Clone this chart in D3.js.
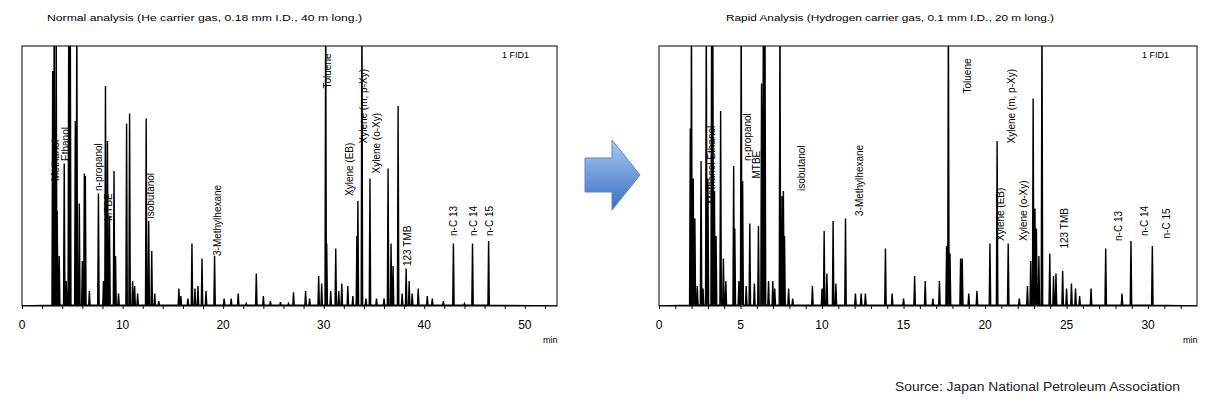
<!DOCTYPE html><html><head><meta charset="utf-8">
<script src="https://cdn.jsdelivr.net/npm/d3@7"></script>
<style>body{margin:0;background:#fff}text{font-family:"Liberation Sans",Arial,sans-serif}</style></head><body>
<svg id="c" width="1232" height="407"></svg>
<script>
const leftPeaks=[[3.05,.94],[3.2,1.2],[3.4,1.2],[3.5,.38],[3.7,.2],[4.2,.57],[4.4,.1],[4.65,1.2],[4.8,1.2],[5.3,.74],[5.45,1.2],[5.7,.41],[6.0,.18],[6.2,.53],[6.3,.52],[6.7,.06],[7.6,.45],[8.1,.1],[8.3,.88],[8.5,.66],[8.7,.36],[9.15,.54],[9.3,.2],[9.6,.05],[10.4,.73],[10.7,.77],[11.0,.1],[11.2,.08],[11.5,.05],[12.35,.75],[12.6,.34],[12.9,.22],[13.2,.05],[13.6,.02],[15.6,.07],[15.8,.04],[16.5,.03],[16.9,.25],[17.2,.07],[17.5,.08],[17.9,.19],[18.3,.06],[19.15,.2],[20.1,.03],[20.8,.03],[21.5,.05],[22.3,.01],[23.3,.13],[24.0,.04],[24.7,.02],[25.7,.015],[26.5,.01],[27.0,.055],[28.2,.06],[28.6,.03],[29.5,.12],[29.8,.09],[30.2,1.2],[30.3,.25],[30.7,.06],[31.2,.23],[31.5,.06],[31.8,.09],[32.4,.08],[32.9,.04],[33.3,.28],[33.4,.42],[33.8,1.2],[34.2,.03],[34.6,.51],[35.25,.03],[36.0,.03],[36.4,.55],[36.7,.25],[36.9,.16],[37.4,.8],[37.8,.05],[38.2,.15],[38.5,.1],[38.8,.05],[39.4,.07],[40.3,.04],[40.8,.03],[41.9,.02],[42.9,.25],[44.0,.01],[44.8,.25],[46.4,.26]];
const rightPeaks=[[1.92,.71],[1.99,1.2],[2.1,.51],[2.2,.35],[2.35,.08],[2.58,.58],[2.7,.07],[2.9,1.2],[3.0,.51],[3.23,1.2],[3.3,1.2],[3.4,.46],[3.5,.28],[3.78,.78],[3.95,.19],[4.1,.1],[4.58,.56],[4.65,.31],[4.9,.1],[5.04,1.2],[5.13,.5],[5.35,.08],[5.57,.33],[5.85,.09],[6.1,.32],[6.29,.89],[6.4,1.2],[6.5,1.2],[6.72,.1],[6.98,.1],[7.1,.07],[7.42,1.2],[7.55,.44],[7.63,.46],[7.7,.28],[7.95,.07],[8.2,.03],[9.41,.08],[10.0,.07],[10.13,.3],[10.3,.13],[10.68,.34],[10.85,.09],[11.44,.35],[12.05,.05],[12.4,.05],[12.66,.05],[13.89,.23],[14.3,.05],[15.0,.03],[15.68,.12],[16.33,.1],[16.8,.03],[17.2,.1],[17.64,.24],[17.75,1.2],[17.85,.21],[18.5,.19],[18.6,.19],[19.0,.05],[19.5,.06],[20.3,.25],[20.74,.66],[21.42,.25],[22.1,.03],[22.6,.08],[22.8,.18],[22.95,.83],[23.06,.39],[23.15,.31],[23.3,.2],[23.49,1.2],[23.97,.21],[24.2,.12],[24.35,.13],[24.76,.14],[25.0,.07],[25.3,.09],[25.55,.07],[25.8,.04],[26.5,.07],[27.4,.23],[28.4,.05],[28.95,.26],[30.26,.24]];
const leftLabels=[["Methanol",3.3,.5],["Ethanol",4.3,.58],["n-propanol",7.6,.46],["MTBE",8.6,.34],["isobutanol",12.8,.35],["3-Methylhexane",19.4,.2],["Toluene",30.4,.87],["Xylene (EB)",32.6,.44],["Xylene (m, p-Xy)",34.0,.65],["Xylene (o-Xy)",35.3,.53],["123 TMB",38.3,.16],["n-C 13",42.9,.28],["n-C 14",44.9,.28],["n-C 15",46.5,.28]];
const rightLabels=[["Methanol Ethanol",3.2,.41],["n-propanol",5.4,.58],["MTBE",6.0,.51],["isobutanol",8.75,.46],["3-Methylhexane",12.3,.36],["Toluene",18.95,.85],["Xylene (EB)",20.95,.26],["Xylene (m, p-Xy)",21.6,.65],["Xylene (o-Xy)",22.35,.26],["123 TMB",24.9,.23],["n-C 13",28.2,.26],["n-C 14",29.8,.28],["n-C 15",31.1,.27]];
const svg=d3.select("#c");
const pTop=46,pBot=306;
function panel(peaks,labels,x0,x1,dmax,major,minor,title,titleX,titleW,w){
  const x=d3.scaleLinear().domain([0,dmax]).range([x0,x1]);
  const y=d3.scaleLinear().domain([0,1]).range([pBot,pTop+10]);
  const id="clip"+x0;
  svg.append("clipPath").attr("id",id).append("rect").attr("x",x0).attr("y",pTop).attr("width",x1-x0).attr("height",pBot-pTop);
  const pts=[[0,0]];
  peaks.slice().sort((a,b)=>a[0]-b[0]).forEach(p=>{pts.push([p[0]-w,0.003],[p[0],p[1]],[p[0]+w,0.003]);});
  pts.push([dmax,0]);
  svg.append("path").attr("clip-path",`url(#${id})`).attr("d",d3.line().x(d=>x(d[0])).y(d=>y(d[1]))(pts)).attr("fill","none").attr("stroke","#000").attr("stroke-width",1.4);
  svg.append("rect").attr("x",x0).attr("y",pTop).attr("width",x1-x0).attr("height",pBot-pTop).attr("fill","none").attr("stroke","#000");
  const ax=svg.append("g").attr("transform",`translate(0,${pBot})`);
  ax.call(d3.axisBottom(x).tickValues(d3.range(0,dmax,minor)).tickSize(3).tickFormat(""));
  ax.call(g=>g.select(".domain").remove());
  major.forEach(v=>svg.append("text").attr("x",x(v)).attr("y",pBot+23).attr("text-anchor","middle").attr("font-size",12).text(v));
  svg.append("text").attr("x",x1-14).attr("y",pBot+37).attr("font-size",9).text("min");
  svg.append("text").attr("x",x1-55).attr("y",pTop+12).attr("font-size",9).text("1 FID1");
  svg.append("text").attr("x",titleX).attr("y",21).attr("font-size",9.5).attr("textLength",titleW).attr("lengthAdjust","spacingAndGlyphs").text(title);
  labels.forEach(l=>svg.append("text").attr("transform",`translate(${x(l[1])+3.5},${y(l[2])}) rotate(-90)`).attr("font-size",10).text(l[0]));
  return x;
}
const xl=panel(leftPeaks,leftLabels,22,557,53.2,[0,10,20,30,40,50],2,"Normal analysis (He carrier gas, 0.18 mm I.D., 40 m long.)",47,315,0.07);
const xr=panel(rightPeaks,rightLabels,659,1197,33.0,[0,5,10,15,20,25,30],1,"Rapid Analysis (Hydrogen carrier gas, 0.1 mm I.D., 20 m long.)",726,328,0.045);
const yb=d3.scaleLinear().domain([0,1]).range([pBot,pTop+10]);
svg.append("path").attr("d",`M${xl(32.8)},${yb(.45)} q2,-2 4,-6 M${xl(35.5)},${yb(.56)} q-2,-2 -4,-4`).attr("stroke","#44f").attr("fill","none");
const defs=svg.append("defs");const gr=defs.append("linearGradient").attr("id","ag").attr("x1",0).attr("y1",0).attr("x2",0).attr("y2",1);
gr.append("stop").attr("offset",0).attr("stop-color","#a8c8f0");gr.append("stop").attr("offset",1).attr("stop-color","#3b6fc4");
svg.append("path").attr("d","M585,158 L612,158 L612,140 L640,175 L612,210 L612,192 L585,192 Z").attr("fill","url(#ag)").attr("stroke","#5a85c8");
svg.append("text").attr("x",895).attr("y",391).attr("font-size",12).attr("textLength",285).attr("lengthAdjust","spacingAndGlyphs").attr("fill","#222").text("Source: Japan National Petroleum Association");
</script></body></html>
